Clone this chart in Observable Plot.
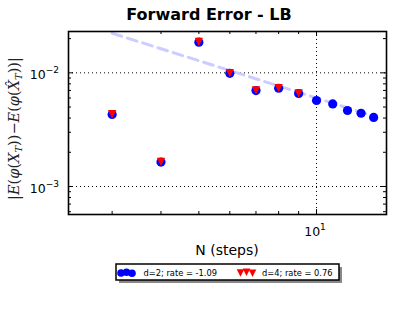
<!DOCTYPE html>
<html><head><meta charset="utf-8">
<script src="https://cdn.jsdelivr.net/npm/d3@7"></script>
<script src="https://cdn.jsdelivr.net/npm/@observablehq/plot@0.6"></script>
<style>
body{margin:0;background:#fff;}
#chart{position:relative;width:417px;height:334px;}
svg text{font-family:"DejaVu Sans",sans-serif;}
</style>
</head><body><div id="chart"></div>
<script>
// ---- data ----
const stepsD2 = [3, 4, 5, 6, 7, 8, 9, 10, 11, 12, 13, 14];
const errD2   = [4.30e-3, 1.64e-3, 1.86e-2, 9.9e-3, 6.98e-3, 7.32e-3, 6.58e-3, 5.71e-3, 5.33e-3, 4.66e-3, 4.41e-3, 4.05e-3];
const stepsD4 = [3, 4, 5, 6, 7, 8, 9];
const errD4   = [4.32e-3, 1.65e-3, 1.87e-2, 9.95e-3, 7.0e-3, 7.35e-3, 6.6e-3];
const fitSteps = [3, 14];
const fitErr   = [0.0223, 0.00416];
const xMajorTicks = [10];
const xMinorTicks = [3, 4, 5, 6, 7, 8, 9];
const yMajorTicks = [1e-3, 1e-2];
const yMinorTicks = [6e-4, 7e-4, 8e-4, 9e-4, 2e-3, 3e-3, 4e-3, 5e-3, 6e-3, 7e-3, 8e-3, 9e-3, 2e-2];
const xTickLabels = [["10", "1"]];
const yTickLabels = [["10", "-3"], ["10", "-2"]];
const seriesLabels = ["d=2; rate = -1.09", "d=4; rate = 0.76"];
const seriesColors = ["#0000ff", "#ff0000"];
const titleText = "Forward Error - LB";
const xLabelText = "N (steps)";

const d2 = stepsD2.map((n, i) => ({n, e: errD2[i]}));
const d4 = stepsD4.map((n, i) => ({n, e: errD4[i]}));
const fit = fitSteps.map((n, i) => ({n, e: fitErr[i]}));

// matplotlib-style "v" marker (bbox centred)
const triDown = {
  draw(ctx, size) {
    const h = Math.sqrt(size / 2);
    ctx.moveTo(-h, -h); ctx.lineTo(h, -h); ctx.lineTo(0, h); ctx.closePath();
  }
};

const W = 417, H = 334, ML = 68, MR = 31, MT = 31, MB = 120;
const FW = W - ML - MR, FH = H - MT - MB;

const plot = Plot.plot({
  width: W, height: H,
  marginLeft: ML, marginRight: MR, marginTop: MT, marginBottom: MB,
  style: {background: "#fff", overflow: "visible"},
  x: {type: "log", domain: [2.32, 15.1], axis: null},
  y: {type: "log", domain: [5.67e-4, 0.0231], axis: null},
  marks: [
    Plot.ruleY(yMajorTicks, {stroke: "black", strokeWidth: 1, strokeDasharray: "1,3"}),
    Plot.ruleX(xMajorTicks, {stroke: "black", strokeWidth: 1, strokeDasharray: "1,3"}),
    // inward ticks on all four sides
    Plot.ruleX(xMajorTicks, {insetTop: FH - 5, stroke: "black"}),
    Plot.ruleX(xMajorTicks, {insetBottom: FH - 5, stroke: "black"}),
    Plot.ruleX(xMinorTicks, {insetTop: FH - 3, stroke: "black"}),
    Plot.ruleX(xMinorTicks, {insetBottom: FH - 3, stroke: "black"}),
    Plot.ruleY(yMajorTicks, {insetRight: FW - 5, stroke: "black"}),
    Plot.ruleY(yMajorTicks, {insetLeft: FW - 5, stroke: "black"}),
    Plot.ruleY(yMinorTicks, {insetRight: FW - 3, stroke: "black"}),
    Plot.ruleY(yMinorTicks, {insetLeft: FW - 3, stroke: "black"}),
    Plot.line(fit, {x: "n", y: "e", stroke: "#ccccff", strokeWidth: 3, strokeDasharray: "10,6"}),
    Plot.dot(d2, {x: "n", y: "e", r: 4.6, fill: seriesColors[0], stroke: "none", symbol: "circle"}),
    Plot.dot(d4, {x: "n", y: "e", r: 3.3, fill: seriesColors[1], stroke: "none", symbol: triDown}),
    Plot.frame({stroke: "black", strokeWidth: 1.6})
  ]
});

document.getElementById("chart").appendChild(plot);
const svg = d3.select(plot);
const xs = plot.scale("x"), ys = plot.scale("y");

// tick labels with superscripts
xTickLabels.forEach((t, i) => {
  const tx = svg.append("text").attr("x", xs.apply(xMajorTicks[i]) - 1).attr("y", MT + FH + 22)
    .attr("text-anchor", "middle").attr("font-size", 12.5).attr("fill", "black");
  tx.append("tspan").text(t[0]);
  tx.append("tspan").attr("dy", -6).attr("font-size", 9).text(t[1]);
});
yTickLabels.forEach((t, i) => {
  const tx = svg.append("text").attr("x", ML - 9).attr("y", ys.apply(yMajorTicks[i]) + 7)
    .attr("text-anchor", "end").attr("font-size", 12.5).attr("fill", "black");
  tx.append("tspan").text(t[0]);
  tx.append("tspan").attr("dy", -6).attr("font-size", 9).text(t[1].replace("-", "\u2212"));
});

// title
svg.append("text").attr("x", 209).attr("y", 20).attr("text-anchor", "middle")
  .attr("font-size", 16).attr("font-weight", "bold").attr("fill", "black").text(titleText);
// x label
svg.append("text").attr("x", ML + FW / 2).attr("y", 255).attr("text-anchor", "middle")
  .attr("font-size", 14).attr("fill", "black").text(xLabelText);
// y label (math)
const yl = svg.append("text").attr("transform", `translate(19,${MT + FH / 2 + 6}) rotate(-90)`)
  .attr("text-anchor", "middle").attr("font-size", 14.5).attr("fill", "#222")
  .style("font-family", "'DejaVu Serif', serif");
const part = (s, it) => {
  const t = yl.append("tspan").text(s);
  if (it) t.attr("font-style", "italic");
  return t;
};
part("|", false); part("E", true); part("(", false); part("\u03c6", true); part("(", false); part("X", true);
yl.append("tspan").attr("dy", 3).attr("font-size", 10).attr("font-style", "italic").text("T");
yl.append("tspan").attr("dy", -3).text("))\u2212");
part("E", true); part("(", false); part("\u03c6", true); part("(", false); part("X\u0302", true);
yl.append("tspan").attr("dy", 3).attr("font-size", 10).attr("font-style", "italic").text("T");
yl.append("tspan").attr("dy", -3).text("))|");

// legend
const lg = svg.append("g").attr("text-anchor", "start");
lg.append("rect").attr("x", 119).attr("y", 267).attr("width", 223).attr("height", 16).attr("fill", "#888");
lg.append("rect").attr("x", 116).attr("y", 264).attr("width", 223).attr("height", 16)
  .attr("fill", "#fff").attr("stroke", "#000").attr("stroke-width", 1.5);
const ly = 272.5, yoff = [0.5, -0.2, 0.8];
[121, 126.5, 132].forEach((cx, i) =>
  lg.append("circle").attr("cx", cx).attr("cy", ly + yoff[i]).attr("r", 3.8).attr("fill", seriesColors[0]));
[240.5, 246.5, 252.5].forEach((cx, i) => {
  const h = 3.8, cy = ly + yoff[i];
  lg.append("path").attr("d", `M${cx - h},${cy - h}L${cx + h},${cy - h}L${cx},${cy + h}Z`).attr("fill", seriesColors[1]);
});
lg.append("text").attr("x", 143.5).attr("y", 275.5).attr("text-anchor", "start").attr("font-size", 8.3).attr("fill", "#000").text(seriesLabels[0]);
lg.append("text").attr("x", 262).attr("y", 275.5).attr("text-anchor", "start").attr("font-size", 8.3).attr("fill", "#000").text(seriesLabels[1]);
</script>
</body></html>
